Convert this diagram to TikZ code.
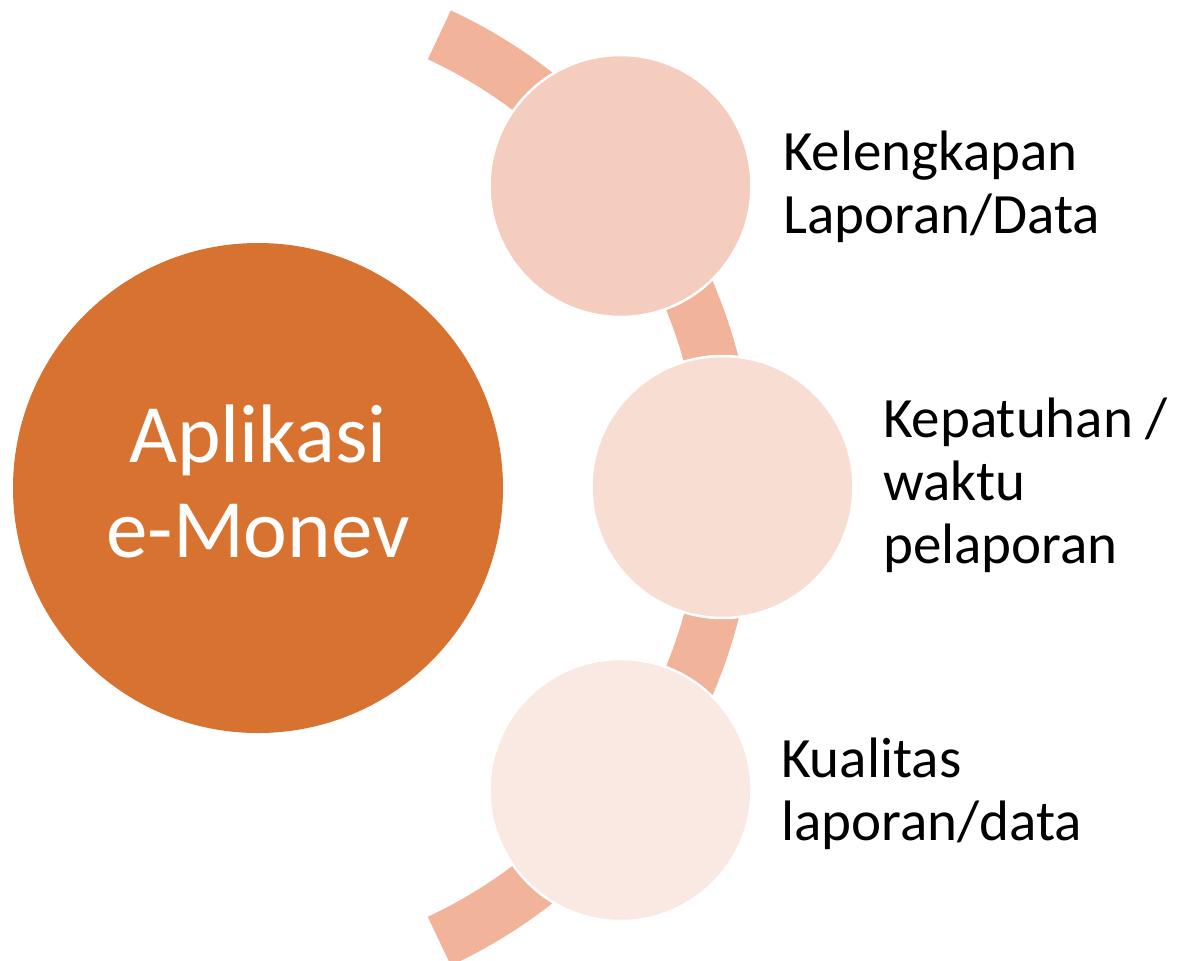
\documentclass[tikz,border=0pt]{standalone}
\usepackage{fontspec}
\setmainfont{Carlito}
\definecolor{mainorange}{HTML}{D87230}
\definecolor{bandcol}{HTML}{F2B39B}
\definecolor{cA}{HTML}{F5CDBF}
\definecolor{cB}{HTML}{F8DDD3}
\definecolor{cC}{HTML}{FAE8E2}
\tikzset{
  bigcirc/.style={circle, fill=mainorange, minimum size=490pt, inner sep=0pt},
  smallcirc/.style={circle, draw=white, line width=2.5pt, minimum size=262pt, inner sep=0pt},
  band/.style={line width=54pt, color=bandcol, line cap=butt},
  bigtext/.style={text=white, align=center, inner sep=0pt, font=\fontsize{83}{95}\selectfont},
  labeltext/.style={text=black, align=left, inner sep=0pt, anchor=base west, font=\fontsize{57}{63}\selectfont}
}
\begin{document}
\begin{tikzpicture}[x=1pt, y=-1pt]
\useasboundingbox (0,0) rectangle (1178,961);
\node[bigcirc] (main) at (258,488) {};
\node[bigtext] (maintext) at (258,481) {Aplikasi\\e-Monev};
\coordinate (arcc) at (228,488);
\draw[band] (arcc) ++(-65:500) arc[start angle=-65, end angle=65, radius=500];
\node[smallcirc, fill=cA] (c1) at (620.5,186) {};
\node[smallcirc, fill=cB] (c2) at (722.5,487) {};
\node[smallcirc, fill=cC] (c3) at (620.5,790) {};
\node[labeltext] (t1) at (783,233) {Kelengkapan\\Laporan/Data};
\node[labeltext] (t2) at (883,563) {Kepatuhan /\\waktu\\pelaporan};
\node[labeltext] (t3) at (781,840) {Kualitas\\laporan/data};
\end{tikzpicture}
\end{document}
